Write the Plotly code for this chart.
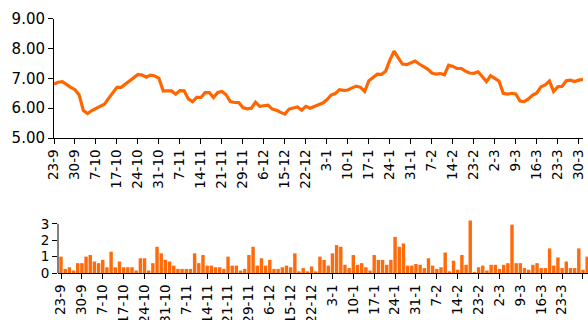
import plotly.graph_objects as go

# Weekly tick labels (one every five trading days)
tick_labels = ["23-9", "30-9", "7-10", "17-10", "24-10", "31-10", "7-11", "14-11",
               "21-11", "29-11", "6-12", "15-12", "22-12", "3-1", "10-1", "17-1",
               "24-1", "31-1", "7-2", "14-2", "23-2", "2-3", "9-3", "16-3", "23-3", "30-3"]

# Daily closing level
close = [6.81, 6.87, 6.89, 6.78, 6.70, 6.62, 6.44, 5.92, 5.82, 5.92,
         6.00, 6.06, 6.13, 6.33, 6.50, 6.70, 6.70, 6.81, 6.89, 7.00,
         7.13, 7.11, 7.04, 7.11, 7.08, 7.00, 6.58, 6.58, 6.58, 6.47,
         6.59, 6.58, 6.31, 6.22, 6.36, 6.36, 6.52, 6.52, 6.36, 6.53,
         6.56, 6.45, 6.22, 6.19, 6.19, 6.02, 5.98, 6.00, 6.20, 6.06,
         6.08, 6.10, 5.97, 5.93, 5.86, 5.80, 5.97, 6.00, 6.04, 5.93,
         6.06, 6.00, 6.06, 6.10, 6.17, 6.28, 6.44, 6.49, 6.62, 6.60,
         6.61, 6.68, 6.74, 6.70, 6.56, 6.92, 7.04, 7.14, 7.13, 7.24,
         7.61, 7.91, 7.69, 7.48, 7.46, 7.52, 7.58, 7.48, 7.39, 7.31,
         7.18, 7.14, 7.16, 7.12, 7.44, 7.40, 7.33, 7.33, 7.24, 7.18,
         7.17, 7.22, 7.06, 6.89, 7.09, 7.01, 6.91, 6.50, 6.47, 6.50,
         6.48, 6.24, 6.22, 6.31, 6.44, 6.51, 6.72, 6.78, 6.91, 6.56,
         6.72, 6.73, 6.92, 6.94, 6.89, 6.94, 6.97]

# Daily volume
volume = [1.0, 0.25, 0.35, 0.15, 0.6, 0.6, 1.0, 1.1, 0.7, 0.6,
          0.8, 0.35, 1.3, 0.35, 0.7, 0.35, 0.35, 0.35, 0.15, 0.9,
          0.9, 0.15, 0.6, 1.6, 1.2, 0.8, 0.7, 0.45, 0.25, 0.25,
          0.25, 0.25, 1.2, 0.6, 1.1, 0.45, 0.45, 0.35, 0.35, 0.25,
          1.0, 0.45, 0.45, 0.15, 0.25, 1.1, 1.6, 0.45, 0.9, 0.45,
          0.8, 0.25, 0.25, 0.35, 0.45, 0.35, 1.2, 0.1, 0.3, 0.1,
          0.4, 0.1, 1.0, 0.8, 0.45, 1.2, 1.7, 1.6, 0.5, 0.3,
          1.1, 0.5, 0.6, 0.35, 0.15, 1.1, 0.8, 0.8, 0.5, 0.8,
          2.2, 1.6, 1.8, 0.45, 0.45, 0.55, 0.5, 0.3, 0.9, 0.45,
          0.25, 0.35, 1.25, 0.1, 0.75, 0.2, 1.1, 0.5, 3.2, 0.05,
          0.35, 0.45, 0.15, 0.5, 0.5, 0.25, 0.5, 0.6, 2.95, 0.6,
          0.6, 0.3, 0.2, 0.5, 0.6, 0.3, 0.3, 1.5, 0.45, 0.95,
          0.3, 0.7, 0.3, 0.3, 1.5, 0.2, 1.0]

days = list(range(len(close)))
tick_pos = list(range(0, 5 * len(tick_labels), 5))

ORANGE = "#FF6600"
FONT = "DejaVu Sans"
W, H = 588, 320

fig = go.Figure()
fig.add_trace(go.Scatter(x=days, y=close, mode="lines",
                         line=dict(color=ORANGE, width=3.2),
                         xaxis="x", yaxis="y", showlegend=False))
fig.add_trace(go.Bar(x=list(range(len(volume))), y=volume,
                     marker=dict(color="#FF6A0A", line=dict(width=0)),
                     xaxis="x2", yaxis="y2", showlegend=False))

common_x = dict(tickmode="array", tickvals=tick_pos, ticktext=tick_labels,
                tickangle=-90, ticks="outside", ticklen=5, tickcolor="black",
                showline=True, linecolor="black", linewidth=1,
                showgrid=False, zeroline=False, automargin=False,
                tickfont=dict(family=FONT, size=13.5, color="black"))

fig.update_layout(
    width=W, height=H,
    margin=dict(l=0, r=0, t=0, b=0),
    paper_bgcolor="white", plot_bgcolor="white",
    bargap=0.18,
    xaxis=dict(domain=[54 / W, 583 / W], range=[0, 126], anchor="y", **common_x),
    yaxis=dict(domain=[1 - 138 / H, 1 - 18.7 / H], range=[5, 9],
               tickmode="array", tickvals=[5, 6, 7, 8, 9], tickformat=".2f",
               ticks="outside", ticklen=5, tickcolor="black",
               showline=True, linecolor="black", linewidth=1,
               showgrid=False, zeroline=False, automargin=False,
               tickfont=dict(family=FONT, size=15, color="black"), anchor="x"),
    xaxis2=dict(domain=[58 / W, 1.0], range=[-0.72, 126.2], anchor="y2", **common_x),
    yaxis2=dict(domain=[1 - 273 / H, 1 - 218.9 / H], range=[0, 3.3],
                tickmode="array", tickvals=[0, 1, 2, 3],
                ticks="outside", ticklen=5, tickcolor="black",
                showline=False, showgrid=False, zeroline=False, automargin=False,
                tickfont=dict(family=FONT, size=13.5, color="black"), anchor="x2"),
    shapes=[dict(type="line", xref="x2 domain", yref="y2",
                 x0=0, x1=0, y0=0, y1=3, line=dict(color="black", width=1))],
)

fig.write_html("out.html")
